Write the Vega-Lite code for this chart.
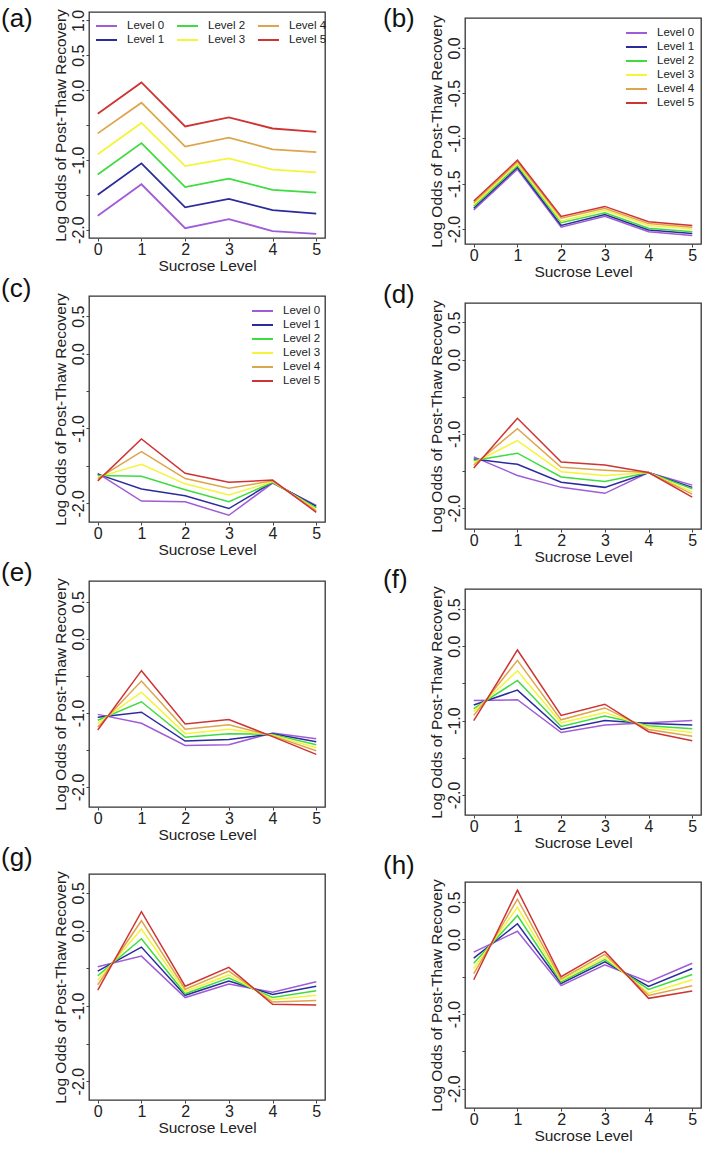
{
"$schema":"https://vega.github.io/schema/vega-lite/v6.json",
"padding":{"left":0,"top":4,"right":0,"bottom":0},
"datasets":{"d":[
{"p":"a","l":0,"s":0,"v":-1.80},{"p":"a","l":0,"s":1,"v":-1.35},{"p":"a","l":0,"s":2,"v":-1.98},{"p":"a","l":0,"s":3,"v":-1.85},{"p":"a","l":0,"s":4,"v":-2.02},{"p":"a","l":0,"s":5,"v":-2.06},
{"p":"a","l":1,"s":0,"v":-1.50},{"p":"a","l":1,"s":1,"v":-1.05},{"p":"a","l":1,"s":2,"v":-1.68},{"p":"a","l":1,"s":3,"v":-1.56},{"p":"a","l":1,"s":4,"v":-1.72},{"p":"a","l":1,"s":5,"v":-1.77},
{"p":"a","l":2,"s":0,"v":-1.21},{"p":"a","l":2,"s":1,"v":-0.76},{"p":"a","l":2,"s":2,"v":-1.39},{"p":"a","l":2,"s":3,"v":-1.27},{"p":"a","l":2,"s":4,"v":-1.43},{"p":"a","l":2,"s":5,"v":-1.47},
{"p":"a","l":3,"s":0,"v":-0.92},{"p":"a","l":3,"s":1,"v":-0.47},{"p":"a","l":3,"s":2,"v":-1.09},{"p":"a","l":3,"s":3,"v":-0.98},{"p":"a","l":3,"s":4,"v":-1.14},{"p":"a","l":3,"s":5,"v":-1.18},
{"p":"a","l":4,"s":0,"v":-0.62},{"p":"a","l":4,"s":1,"v":-0.18},{"p":"a","l":4,"s":2,"v":-0.81},{"p":"a","l":4,"s":3,"v":-0.68},{"p":"a","l":4,"s":4,"v":-0.85},{"p":"a","l":4,"s":5,"v":-0.89},
{"p":"a","l":5,"s":0,"v":-0.34},{"p":"a","l":5,"s":1,"v":0.11},{"p":"a","l":5,"s":2,"v":-0.52},{"p":"a","l":5,"s":3,"v":-0.39},{"p":"a","l":5,"s":4,"v":-0.55},{"p":"a","l":5,"s":5,"v":-0.60},
{"p":"b","l":0,"s":0,"v":-1.79},{"p":"b","l":0,"s":1,"v":-1.34},{"p":"b","l":0,"s":2,"v":-1.98},{"p":"b","l":0,"s":3,"v":-1.86},{"p":"b","l":0,"s":4,"v":-2.03},{"p":"b","l":0,"s":5,"v":-2.07},
{"p":"b","l":1,"s":0,"v":-1.77},{"p":"b","l":1,"s":1,"v":-1.32},{"p":"b","l":1,"s":2,"v":-1.96},{"p":"b","l":1,"s":3,"v":-1.84},{"p":"b","l":1,"s":4,"v":-2.01},{"p":"b","l":1,"s":5,"v":-2.05},
{"p":"b","l":2,"s":0,"v":-1.75},{"p":"b","l":2,"s":1,"v":-1.30},{"p":"b","l":2,"s":2,"v":-1.93},{"p":"b","l":2,"s":3,"v":-1.82},{"p":"b","l":2,"s":4,"v":-1.99},{"p":"b","l":2,"s":5,"v":-2.03},
{"p":"b","l":3,"s":0,"v":-1.73},{"p":"b","l":3,"s":1,"v":-1.28},{"p":"b","l":3,"s":2,"v":-1.91},{"p":"b","l":3,"s":3,"v":-1.79},{"p":"b","l":3,"s":4,"v":-1.96},{"p":"b","l":3,"s":5,"v":-2.00},
{"p":"b","l":4,"s":0,"v":-1.71},{"p":"b","l":4,"s":1,"v":-1.26},{"p":"b","l":4,"s":2,"v":-1.88},{"p":"b","l":4,"s":3,"v":-1.77},{"p":"b","l":4,"s":4,"v":-1.94},{"p":"b","l":4,"s":5,"v":-1.98},
{"p":"b","l":5,"s":0,"v":-1.69},{"p":"b","l":5,"s":1,"v":-1.24},{"p":"b","l":5,"s":2,"v":-1.86},{"p":"b","l":5,"s":3,"v":-1.75},{"p":"b","l":5,"s":4,"v":-1.92},{"p":"b","l":5,"s":5,"v":-1.96},
{"p":"c","l":0,"s":0,"v":-1.60},{"p":"c","l":0,"s":1,"v":-1.97},{"p":"c","l":0,"s":2,"v":-1.98},{"p":"c","l":0,"s":3,"v":-2.16},{"p":"c","l":0,"s":4,"v":-1.73},{"p":"c","l":0,"s":5,"v":-2.03},
{"p":"c","l":1,"s":0,"v":-1.61},{"p":"c","l":1,"s":1,"v":-1.81},{"p":"c","l":1,"s":2,"v":-1.90},{"p":"c","l":1,"s":3,"v":-2.07},{"p":"c","l":1,"s":4,"v":-1.72},{"p":"c","l":1,"s":5,"v":-2.04},
{"p":"c","l":2,"s":0,"v":-1.63},{"p":"c","l":2,"s":1,"v":-1.64},{"p":"c","l":2,"s":2,"v":-1.82},{"p":"c","l":2,"s":3,"v":-1.98},{"p":"c","l":2,"s":4,"v":-1.72},{"p":"c","l":2,"s":5,"v":-2.06},
{"p":"c","l":3,"s":0,"v":-1.65},{"p":"c","l":3,"s":1,"v":-1.48},{"p":"c","l":3,"s":2,"v":-1.74},{"p":"c","l":3,"s":3,"v":-1.89},{"p":"c","l":3,"s":4,"v":-1.71},{"p":"c","l":3,"s":5,"v":-2.08},
{"p":"c","l":4,"s":0,"v":-1.67},{"p":"c","l":4,"s":1,"v":-1.31},{"p":"c","l":4,"s":2,"v":-1.67},{"p":"c","l":4,"s":3,"v":-1.80},{"p":"c","l":4,"s":4,"v":-1.70},{"p":"c","l":4,"s":5,"v":-2.10},
{"p":"c","l":5,"s":0,"v":-1.70},{"p":"c","l":5,"s":1,"v":-1.14},{"p":"c","l":5,"s":2,"v":-1.60},{"p":"c","l":5,"s":3,"v":-1.72},{"p":"c","l":5,"s":4,"v":-1.69},{"p":"c","l":5,"s":5,"v":-2.12},
{"p":"d","l":0,"s":0,"v":-1.31},{"p":"d","l":0,"s":1,"v":-1.56},{"p":"d","l":0,"s":2,"v":-1.72},{"p":"d","l":0,"s":3,"v":-1.80},{"p":"d","l":0,"s":4,"v":-1.52},{"p":"d","l":0,"s":5,"v":-1.69},
{"p":"d","l":1,"s":0,"v":-1.34},{"p":"d","l":1,"s":1,"v":-1.41},{"p":"d","l":1,"s":2,"v":-1.65},{"p":"d","l":1,"s":3,"v":-1.72},{"p":"d","l":1,"s":4,"v":-1.52},{"p":"d","l":1,"s":5,"v":-1.72},
{"p":"d","l":2,"s":0,"v":-1.36},{"p":"d","l":2,"s":1,"v":-1.26},{"p":"d","l":2,"s":2,"v":-1.58},{"p":"d","l":2,"s":3,"v":-1.64},{"p":"d","l":2,"s":4,"v":-1.52},{"p":"d","l":2,"s":5,"v":-1.74},
{"p":"d","l":3,"s":0,"v":-1.39},{"p":"d","l":3,"s":1,"v":-1.09},{"p":"d","l":3,"s":2,"v":-1.51},{"p":"d","l":3,"s":3,"v":-1.56},{"p":"d","l":3,"s":4,"v":-1.52},{"p":"d","l":3,"s":5,"v":-1.78},
{"p":"d","l":4,"s":0,"v":-1.42},{"p":"d","l":4,"s":1,"v":-0.93},{"p":"d","l":4,"s":2,"v":-1.45},{"p":"d","l":4,"s":3,"v":-1.49},{"p":"d","l":4,"s":4,"v":-1.52},{"p":"d","l":4,"s":5,"v":-1.81},
{"p":"d","l":5,"s":0,"v":-1.46},{"p":"d","l":5,"s":1,"v":-0.79},{"p":"d","l":5,"s":2,"v":-1.38},{"p":"d","l":5,"s":3,"v":-1.42},{"p":"d","l":5,"s":4,"v":-1.52},{"p":"d","l":5,"s":5,"v":-1.85},
{"p":"e","l":0,"s":0,"v":-1.02},{"p":"e","l":0,"s":1,"v":-1.14},{"p":"e","l":0,"s":2,"v":-1.44},{"p":"e","l":0,"s":3,"v":-1.43},{"p":"e","l":0,"s":4,"v":-1.27},{"p":"e","l":0,"s":5,"v":-1.35},
{"p":"e","l":1,"s":0,"v":-1.06},{"p":"e","l":1,"s":1,"v":-0.99},{"p":"e","l":1,"s":2,"v":-1.38},{"p":"e","l":1,"s":3,"v":-1.36},{"p":"e","l":1,"s":4,"v":-1.28},{"p":"e","l":1,"s":5,"v":-1.39},
{"p":"e","l":2,"s":0,"v":-1.10},{"p":"e","l":2,"s":1,"v":-0.85},{"p":"e","l":2,"s":2,"v":-1.33},{"p":"e","l":2,"s":3,"v":-1.28},{"p":"e","l":2,"s":4,"v":-1.29},{"p":"e","l":2,"s":5,"v":-1.43},
{"p":"e","l":3,"s":0,"v":-1.14},{"p":"e","l":3,"s":1,"v":-0.72},{"p":"e","l":3,"s":2,"v":-1.28},{"p":"e","l":3,"s":3,"v":-1.22},{"p":"e","l":3,"s":4,"v":-1.30},{"p":"e","l":3,"s":5,"v":-1.47},
{"p":"e","l":4,"s":0,"v":-1.19},{"p":"e","l":4,"s":1,"v":-0.57},{"p":"e","l":4,"s":2,"v":-1.22},{"p":"e","l":4,"s":3,"v":-1.16},{"p":"e","l":4,"s":4,"v":-1.31},{"p":"e","l":4,"s":5,"v":-1.51},
{"p":"e","l":5,"s":0,"v":-1.23},{"p":"e","l":5,"s":1,"v":-0.43},{"p":"e","l":5,"s":2,"v":-1.15},{"p":"e","l":5,"s":3,"v":-1.09},{"p":"e","l":5,"s":4,"v":-1.32},{"p":"e","l":5,"s":5,"v":-1.56},
{"p":"f","l":0,"s":0,"v":-0.73},{"p":"f","l":0,"s":1,"v":-0.72},{"p":"f","l":0,"s":2,"v":-1.16},{"p":"f","l":0,"s":3,"v":-1.06},{"p":"f","l":0,"s":4,"v":-1.03},{"p":"f","l":0,"s":5,"v":-1.00},
{"p":"f","l":1,"s":0,"v":-0.79},{"p":"f","l":1,"s":1,"v":-0.59},{"p":"f","l":1,"s":2,"v":-1.12},{"p":"f","l":1,"s":3,"v":-1.00},{"p":"f","l":1,"s":4,"v":-1.04},{"p":"f","l":1,"s":5,"v":-1.06},
{"p":"f","l":2,"s":0,"v":-0.84},{"p":"f","l":2,"s":1,"v":-0.46},{"p":"f","l":2,"s":2,"v":-1.08},{"p":"f","l":2,"s":3,"v":-0.94},{"p":"f","l":2,"s":4,"v":-1.07},{"p":"f","l":2,"s":5,"v":-1.11},
{"p":"f","l":3,"s":0,"v":-0.88},{"p":"f","l":3,"s":1,"v":-0.33},{"p":"f","l":3,"s":2,"v":-1.03},{"p":"f","l":3,"s":3,"v":-0.89},{"p":"f","l":3,"s":4,"v":-1.09},{"p":"f","l":3,"s":5,"v":-1.16},
{"p":"f","l":4,"s":0,"v":-0.93},{"p":"f","l":4,"s":1,"v":-0.19},{"p":"f","l":4,"s":2,"v":-0.99},{"p":"f","l":4,"s":3,"v":-0.83},{"p":"f","l":4,"s":4,"v":-1.12},{"p":"f","l":4,"s":5,"v":-1.21},
{"p":"f","l":5,"s":0,"v":-1.00},{"p":"f","l":5,"s":1,"v":-0.05},{"p":"f","l":5,"s":2,"v":-0.93},{"p":"f","l":5,"s":3,"v":-0.78},{"p":"f","l":5,"s":4,"v":-1.15},{"p":"f","l":5,"s":5,"v":-1.27},
{"p":"g","l":0,"s":0,"v":-0.48},{"p":"g","l":0,"s":1,"v":-0.34},{"p":"g","l":0,"s":2,"v":-0.89},{"p":"g","l":0,"s":3,"v":-0.71},{"p":"g","l":0,"s":4,"v":-0.82},{"p":"g","l":0,"s":5,"v":-0.68},
{"p":"g","l":1,"s":0,"v":-0.54},{"p":"g","l":1,"s":1,"v":-0.22},{"p":"g","l":1,"s":2,"v":-0.86},{"p":"g","l":1,"s":3,"v":-0.67},{"p":"g","l":1,"s":4,"v":-0.85},{"p":"g","l":1,"s":5,"v":-0.74},
{"p":"g","l":2,"s":0,"v":-0.60},{"p":"g","l":2,"s":1,"v":-0.11},{"p":"g","l":2,"s":2,"v":-0.84},{"p":"g","l":2,"s":3,"v":-0.63},{"p":"g","l":2,"s":4,"v":-0.89},{"p":"g","l":2,"s":5,"v":-0.80},
{"p":"g","l":3,"s":0,"v":-0.66},{"p":"g","l":3,"s":1,"v":0.02},{"p":"g","l":3,"s":2,"v":-0.81},{"p":"g","l":3,"s":3,"v":-0.59},{"p":"g","l":3,"s":4,"v":-0.92},{"p":"g","l":3,"s":5,"v":-0.86},
{"p":"g","l":4,"s":0,"v":-0.72},{"p":"g","l":4,"s":1,"v":0.13},{"p":"g","l":4,"s":2,"v":-0.78},{"p":"g","l":4,"s":3,"v":-0.54},{"p":"g","l":4,"s":4,"v":-0.95},{"p":"g","l":4,"s":5,"v":-0.93},
{"p":"g","l":5,"s":0,"v":-0.79},{"p":"g","l":5,"s":1,"v":0.25},{"p":"g","l":5,"s":2,"v":-0.74},{"p":"g","l":5,"s":3,"v":-0.49},{"p":"g","l":5,"s":4,"v":-0.98},{"p":"g","l":5,"s":5,"v":-0.99},
{"p":"h","l":0,"s":0,"v":-0.17},{"p":"h","l":0,"s":1,"v":0.11},{"p":"h","l":0,"s":2,"v":-0.62},{"p":"h","l":0,"s":3,"v":-0.34},{"p":"h","l":0,"s":4,"v":-0.57},{"p":"h","l":0,"s":5,"v":-0.32},
{"p":"h","l":1,"s":0,"v":-0.25},{"p":"h","l":1,"s":1,"v":0.21},{"p":"h","l":1,"s":2,"v":-0.59},{"p":"h","l":1,"s":3,"v":-0.30},{"p":"h","l":1,"s":4,"v":-0.63},{"p":"h","l":1,"s":5,"v":-0.39},
{"p":"h","l":2,"s":0,"v":-0.32},{"p":"h","l":2,"s":1,"v":0.32},{"p":"h","l":2,"s":2,"v":-0.57},{"p":"h","l":2,"s":3,"v":-0.27},{"p":"h","l":2,"s":4,"v":-0.67},{"p":"h","l":2,"s":5,"v":-0.47},
{"p":"h","l":3,"s":0,"v":-0.39},{"p":"h","l":3,"s":1,"v":0.43},{"p":"h","l":3,"s":2,"v":-0.55},{"p":"h","l":3,"s":3,"v":-0.24},{"p":"h","l":3,"s":4,"v":-0.72},{"p":"h","l":3,"s":5,"v":-0.54},
{"p":"h","l":4,"s":0,"v":-0.46},{"p":"h","l":4,"s":1,"v":0.54},{"p":"h","l":4,"s":2,"v":-0.53},{"p":"h","l":4,"s":3,"v":-0.20},{"p":"h","l":4,"s":4,"v":-0.75},{"p":"h","l":4,"s":5,"v":-0.62},
{"p":"h","l":5,"s":0,"v":-0.54},{"p":"h","l":5,"s":1,"v":0.66},{"p":"h","l":5,"s":2,"v":-0.50},{"p":"h","l":5,"s":3,"v":-0.16},{"p":"h","l":5,"s":4,"v":-0.79},{"p":"h","l":5,"s":5,"v":-0.69}
]},
"config":{
"font":"Liberation Sans",
"view":{"stroke":"#333333","strokeWidth":1.3},
"axis":{"domain":false,"grid":false,"tickColor":"#444444","tickSize":3,"labelFontSize":16,"titleFontSize":15.5,"titleFontWeight":"normal","labelColor":"#222222","titleColor":"#222222","labelFont":"Liberation Sans","titleFont":"Liberation Sans","labelFlush":false,"labelOverlap":false},
"axisX":{"labelPadding":0,"titlePadding":1},
"axisY":{"labelAngle":-90,"labelAlign":"center","labelBaseline":"bottom","labelPadding":0,"titlePadding":2},
"title":{"anchor":"start","frame":"group","fontSize":26,"fontWeight":"normal","color":"#111111","baseline":"top","font":"Liberation Sans"},
"legend":{"title":null,"symbolType":"stroke","symbolSize":441,"symbolStrokeWidth":2,"labelFontSize":11.5,"labelFont":"Liberation Sans","labelColor":"#222222","rowPadding":2,"clipHeight":12,"labelOffset":9,"padding":0}
},
"columns":2,
"spacing":{"row":0,"column":54},
"align":{"row":"none","column":"all"},
"bounds":"full",
"resolve":{"scale":{"x":"independent","y":"independent","color":"independent"},"legend":{"color":"independent"},"axis":{"x":"independent","y":"independent"}},
"concat":[
{"width":236,"height":1,"view":{"stroke":null},"data":{"values":[]},"mark":"point"},
{"width":236,"height":1,"view":{"stroke":null},"data":{"values":[]},"mark":"point"},
{"width":236,"height":226,"title":{"text":"(a)","dx":-88,"offset":-23},"data":{"name":"d"},"transform":[{"filter":"datum.p=='a'"}],"mark":{"type":"line","strokeWidth":1.8},
"encoding":{"x":{"field":"s","type":"quantitative","scale":{"domain":[-0.2,5.2],"nice":false,"zero":false},"axis":{"values":[0,1,2,3,4,5],"title":"Sucrose Level"}},
"y":{"field":"v","type":"quantitative","scale":{"domain":[-2.12,1.12],"nice":false,"zero":false},"axis":{"values":[-2,-1.5,-1,-0.5,0,0.5,1],"labelExpr":"(datum.value == -0.5 || datum.value == -1.5) ? '' : replace(format(datum.value, '.1f'), '\u2212', '-')","title":"Log Odds of Post-Thaw Recovery"}},
"color":{"field":"l","type":"nominal","scale":{"domain":[0,1,2,3,4,5],"range":["#A05CD8","#2B2B9E","#3EDC3E","#F4F43A","#DDA54C","#CF3434"]},"legend":{"orient":"none","legendX":6,"legendY":8,"columns":3,"columnPadding":11,"direction":"vertical","labelExpr":"'Level ' + datum.label"}}}},
{"width":236,"height":226,"title":{"text":"(b)","dx":-82,"offset":-17},"data":{"name":"d"},"transform":[{"filter":"datum.p=='b'"}],"mark":{"type":"line","strokeWidth":1.5},
"encoding":{"x":{"field":"s","type":"quantitative","scale":{"domain":[-0.2,5.2],"nice":false,"zero":false},"axis":{"values":[0,1,2,3,4,5],"title":"Sucrose Level"}},
"y":{"field":"v","type":"quantitative","scale":{"domain":[-2.165,0.33],"nice":false,"zero":false},"axis":{"values":[-2,-1.5,-1,-0.5,0],"labelExpr":"replace(format(datum.value, '.1f'), '\u2212', '-')","title":"Log Odds of Post-Thaw Recovery"}},
"color":{"field":"l","type":"nominal","scale":{"domain":[0,1,2,3,4,5],"range":["#A05CD8","#2B2B9E","#3EDC3E","#F4F43A","#DDA54C","#CF3434"]},"legend":{"orient":"none","legendX":160,"legendY":9,"labelExpr":"'Level ' + datum.label"}}}},
{"width":236,"height":226,"title":{"text":"(c)","dx":-88,"offset":-9},"data":{"name":"d"},"transform":[{"filter":"datum.p=='c'"}],"mark":{"type":"line","strokeWidth":1.5},
"encoding":{"x":{"field":"s","type":"quantitative","scale":{"domain":[-0.2,5.2],"nice":false,"zero":false},"axis":{"values":[0,1,2,3,4,5],"title":"Sucrose Level"}},
"y":{"field":"v","type":"quantitative","scale":{"domain":[-2.25,0.77],"nice":false,"zero":false},"axis":{"values":[-2,-1.5,-1,-0.5,0,0.5],"labelExpr":"(datum.value == -0.5 || datum.value == -1.5) ? '' : replace(format(datum.value, '.1f'), '\u2212', '-')","title":"Log Odds of Post-Thaw Recovery"}},
"color":{"field":"l","type":"nominal","scale":{"domain":[0,1,2,3,4,5],"range":["#A05CD8","#2B2B9E","#3EDC3E","#F4F43A","#DDA54C","#CF3434"]},"legend":{"orient":"none","legendX":162,"legendY":9,"labelExpr":"'Level ' + datum.label"}}}},
{"width":236,"height":226,"title":{"text":"(d)","dx":-82,"offset":-8},"data":{"name":"d"},"transform":[{"filter":"datum.p=='d'"}],"mark":{"type":"line","strokeWidth":1.5},
"encoding":{"x":{"field":"s","type":"quantitative","scale":{"domain":[-0.2,5.2],"nice":false,"zero":false},"axis":{"values":[0,1,2,3,4,5],"title":"Sucrose Level"}},
"y":{"field":"v","type":"quantitative","scale":{"domain":[-2.28,0.76],"nice":false,"zero":false},"axis":{"values":[-2,-1.5,-1,-0.5,0,0.5],"labelExpr":"(datum.value == -0.5 || datum.value == -1.5) ? '' : replace(format(datum.value, '.1f'), '\u2212', '-')","title":"Log Odds of Post-Thaw Recovery"}},
"color":{"field":"l","type":"nominal","scale":{"domain":[0,1,2,3,4,5],"range":["#A05CD8","#2B2B9E","#3EDC3E","#F4F43A","#DDA54C","#CF3434"]},"legend":null}}},
{"width":236,"height":226,"title":{"text":"(e)","dx":-88,"offset":-8},"data":{"name":"d"},"transform":[{"filter":"datum.p=='e'"}],"mark":{"type":"line","strokeWidth":1.5},
"encoding":{"x":{"field":"s","type":"quantitative","scale":{"domain":[-0.2,5.2],"nice":false,"zero":false},"axis":{"values":[0,1,2,3,4,5],"title":"Sucrose Level"}},
"y":{"field":"v","type":"quantitative","scale":{"domain":[-2.27,0.78],"nice":false,"zero":false},"axis":{"values":[-2,-1.5,-1,-0.5,0,0.5],"labelExpr":"(datum.value == -0.5 || datum.value == -1.5) ? '' : replace(format(datum.value, '.1f'), '\u2212', '-')","title":"Log Odds of Post-Thaw Recovery"}},
"color":{"field":"l","type":"nominal","scale":{"domain":[0,1,2,3,4,5],"range":["#A05CD8","#2B2B9E","#3EDC3E","#F4F43A","#DDA54C","#CF3434"]},"legend":null}}},
{"width":236,"height":226,"title":{"text":"(f)","dx":-82,"offset":-7},"data":{"name":"d"},"transform":[{"filter":"datum.p=='f'"}],"mark":{"type":"line","strokeWidth":1.5},
"encoding":{"x":{"field":"s","type":"quantitative","scale":{"domain":[-0.2,5.2],"nice":false,"zero":false},"axis":{"values":[0,1,2,3,4,5],"title":"Sucrose Level"}},
"y":{"field":"v","type":"quantitative","scale":{"domain":[-2.27,0.77],"nice":false,"zero":false},"axis":{"values":[-2,-1.5,-1,-0.5,0,0.5],"labelExpr":"(datum.value == -0.5 || datum.value == -1.5) ? '' : replace(format(datum.value, '.1f'), '\u2212', '-')","title":"Log Odds of Post-Thaw Recovery"}},
"color":{"field":"l","type":"nominal","scale":{"domain":[0,1,2,3,4,5],"range":["#A05CD8","#2B2B9E","#3EDC3E","#F4F43A","#DDA54C","#CF3434"]},"legend":null}}},
{"width":236,"height":226,"title":{"text":"(g)","dx":-88,"offset":0},"data":{"name":"d"},"transform":[{"filter":"datum.p=='g'"}],"mark":{"type":"line","strokeWidth":1.5},
"encoding":{"x":{"field":"s","type":"quantitative","scale":{"domain":[-0.2,5.2],"nice":false,"zero":false},"axis":{"values":[0,1,2,3,4,5],"title":"Sucrose Level"}},
"y":{"field":"v","type":"quantitative","scale":{"domain":[-2.25,0.75],"nice":false,"zero":false},"axis":{"values":[-2,-1.5,-1,-0.5,0,0.5],"labelExpr":"(datum.value == -0.5 || datum.value == -1.5) ? '' : replace(format(datum.value, '.1f'), '\u2212', '-')","title":"Log Odds of Post-Thaw Recovery"}},
"color":{"field":"l","type":"nominal","scale":{"domain":[0,1,2,3,4,5],"range":["#A05CD8","#2B2B9E","#3EDC3E","#F4F43A","#DDA54C","#CF3434"]},"legend":null}}},
{"width":236,"height":226,"title":{"text":"(h)","dx":-82,"offset":0},"data":{"name":"d"},"transform":[{"filter":"datum.p=='h'"}],"mark":{"type":"line","strokeWidth":1.5},
"encoding":{"x":{"field":"s","type":"quantitative","scale":{"domain":[-0.2,5.2],"nice":false,"zero":false},"axis":{"values":[0,1,2,3,4,5],"title":"Sucrose Level"}},
"y":{"field":"v","type":"quantitative","scale":{"domain":[-2.26,0.77],"nice":false,"zero":false},"axis":{"values":[-2,-1.5,-1,-0.5,0,0.5],"labelExpr":"(datum.value == -0.5 || datum.value == -1.5) ? '' : replace(format(datum.value, '.1f'), '\u2212', '-')","title":"Log Odds of Post-Thaw Recovery"}},
"color":{"field":"l","type":"nominal","scale":{"domain":[0,1,2,3,4,5],"range":["#A05CD8","#2B2B9E","#3EDC3E","#F4F43A","#DDA54C","#CF3434"]},"legend":null}}}
]
}
